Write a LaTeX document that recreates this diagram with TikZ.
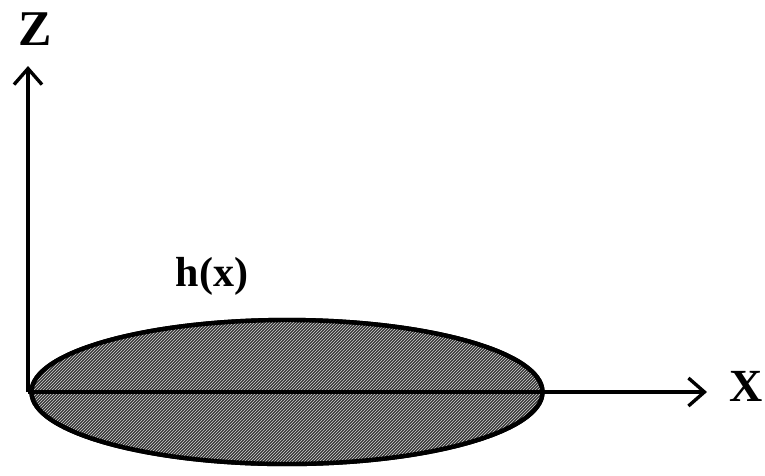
\documentclass[tikz,border=0pt]{standalone}
\usepackage{fontspec}
\setmainfont{Liberation Serif}
\usetikzlibrary{shapes.geometric,patterns,arrows.meta}
\begin{document}
\begin{tikzpicture}[x=1pt,y=-1pt,
  axis/.style={line width=3.6pt,-{Straight Barb[length=16pt,width=28pt,line width=3.4pt]}},
  lbl/.style={font=\bfseries, inner sep=0pt},
  blob/.style={ellipse, draw, line width=4.4pt, minimum width=511pt, minimum height=144pt, inner sep=0pt}]
\useasboundingbox (0,0) rectangle (765,475);
\node[blob, fill=black!78] (E) at (287,392) {};
\node[blob, pattern=north east lines, pattern color=white!65!gray] (E2) at (287,392) {};
\coordinate (O) at (28,392);
\coordinate (ztip) at (28,66);
\coordinate (xtip) at (707,392);
\draw[axis] (O) -- (ztip);
\draw[axis] (O) -- (xtip);
\node[lbl, font=\fontsize{50}{50}\selectfont\bfseries] (Z) at (35,29) {Z};
\node[lbl, font=\fontsize{46}{46}\selectfont\bfseries] (X) at (746,386) {X};
\node[lbl, font=\fontsize{42}{42}\selectfont\bfseries] (h) at (212,276) {h(x)};
\end{tikzpicture}
\end{document}
